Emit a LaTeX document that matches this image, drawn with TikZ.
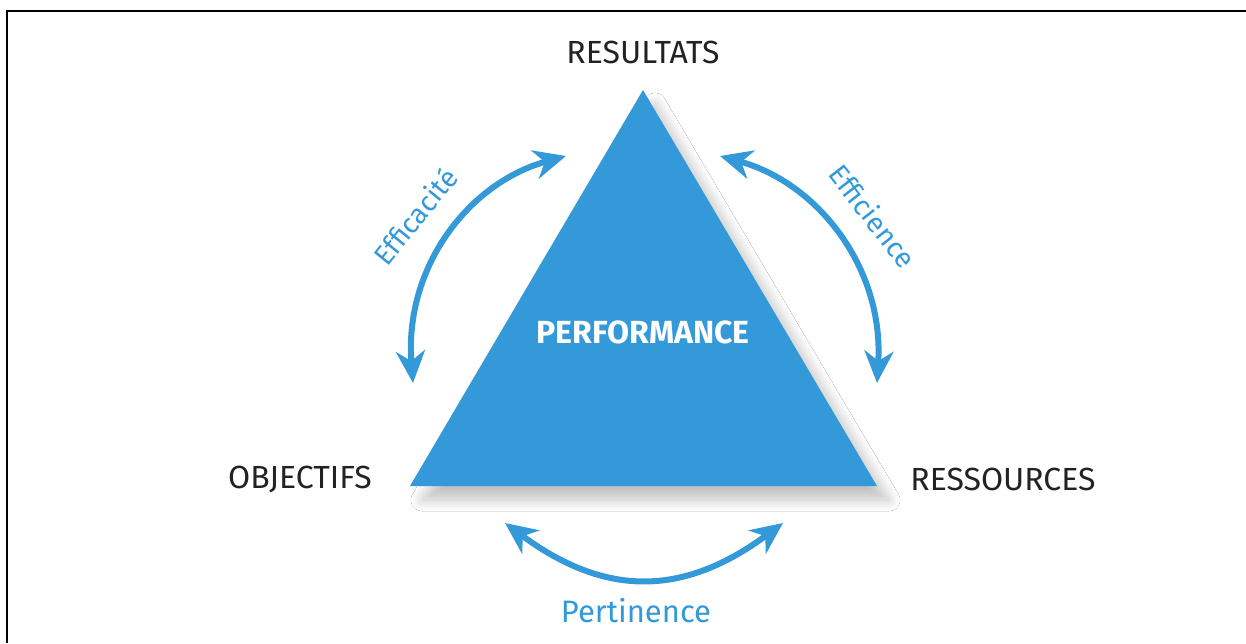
\documentclass[tikz,border=0pt]{standalone}
\usepackage{fontspec}
\setmainfont{Fira Sans}
\usetikzlibrary{arrows.meta,shadows.blur}
\definecolor{perfblue}{HTML}{3399D9}
\definecolor{labeltxt}{HTML}{222222}
\tikzset{
  cornerlabel/.style={text=labeltxt,font=\fontsize{32}{34}\selectfont,inner sep=0pt},
  arclabel/.style={text=perfblue,font=\fontsize{28}{30}\selectfont,inner sep=0pt},
  cycarrow/.style={draw=perfblue,line width=6pt,{Stealth[length=32pt,width=29pt,inset=10pt]}-{Stealth[length=32pt,width=29pt,inset=10pt]}},
  frameline/.style={draw=black,line width=2.2pt}
}
\begin{document}
\begin{tikzpicture}[x=1pt,y=-1pt]
\useasboundingbox (0,0) rectangle (1246,643);
\fill[white] (0,0) rectangle (1246,643);
% frame
\coordinate (fb) at (7,643);
\coordinate (fc) at (7,11);
\coordinate (fr) at (1246,11);
\draw[frameline] (fb) -- (fc) -- (fr);
% triangle
\coordinate (apex) at (643,90);
\coordinate (bl) at (410,486);
\coordinate (br) at (877,486);
\fill[perfblue,blur shadow={shadow xshift=12pt,shadow yshift=-14pt,shadow blur radius=11pt,shadow blur steps=20,shadow opacity=24}] (apex) -- (br) -- (bl) -- cycle;
\node[text=white,font=\bfseries\fontsize{32}{34}\selectfont,inner sep=0pt] (perf) at (643,332) {PERFORMANCE};
% corner labels
\node[cornerlabel] (res) at (643,52) {RESULTATS};
\node[cornerlabel] (obj) at (300,479) {OBJECTIFS};
\node[cornerlabel] (ress) at (1003,479) {RESSOURCES};
% arrows
\coordinate (la) at (413,383);
\coordinate (lb) at (566,156);
\coordinate (ra) at (720,156);
\coordinate (rb) at (877,383);
\coordinate (ba) at (505,523);
\coordinate (bb) at (783,523);
\draw[cycarrow] (la) .. controls (404,268) and (468,183) .. (lb);
\draw[cycarrow] (ra) .. controls (818,183) and (884,268) .. (rb);
\draw[cycarrow] (ba) .. controls (605,597) and (683,597) .. (bb);
% arc labels
\node[arclabel,rotate=51] (effa) at (415,216) {Efficacité};
\node[arclabel,rotate=-52] (effi) at (873,216) {Efficience};
\node[arclabel,font=\fontsize{31}{33}\selectfont] (pert) at (636,611) {Pertinence};
\end{tikzpicture}
\end{document}
